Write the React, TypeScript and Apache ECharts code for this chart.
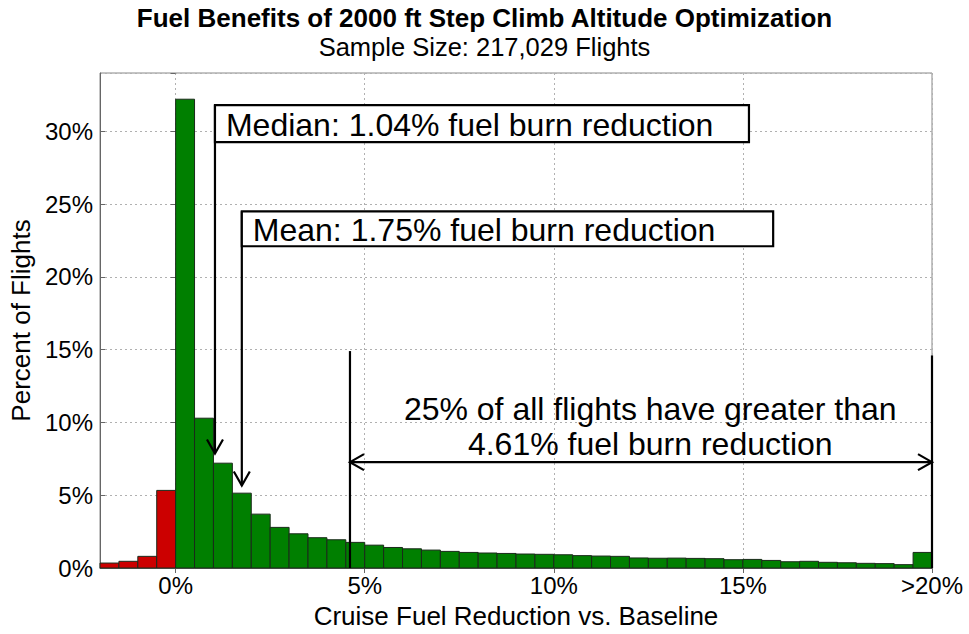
import React, { useEffect, useRef } from "react";
import * as echarts from "echarts";

const binStart = [
  -2, -1.5, -1, -0.5, 0, 0.5, 1, 1.5, 2, 2.5, 3, 3.5, 4, 4.5, 5, 5.5, 6, 6.5, 7, 7.5, 8, 8.5,
  9, 9.5, 10, 10.5, 11, 11.5, 12, 12.5, 13, 13.5, 14, 14.5, 15, 15.5, 16, 16.5, 17, 17.5, 18,
  18.5, 19, 19.5,
];
const binWidth = 0.5;
const percentFlights = [
  0.34, 0.46, 0.8, 5.33, 32.2, 10.29, 7.2, 5.14, 3.7, 2.79, 2.35, 2.08, 1.94, 1.76, 1.57, 1.41,
  1.32, 1.23, 1.14, 1.07, 1.03, 1.0, 0.96, 0.94, 0.91, 0.85, 0.82, 0.8, 0.69, 0.67, 0.68, 0.66,
  0.64, 0.57, 0.59, 0.52, 0.43, 0.46, 0.39, 0.36, 0.32, 0.3, 0.23, 1.07,
];
const xTickValues = [0, 5, 10, 15, 20];
const xTickLabels = ["0%", "5%", "10%", "15%", ">20%"];
const yTickValues = [0, 5, 10, 15, 20, 25, 30];

const medianValue = 1.04;
const meanValue = 1.75;
const q75Value = 4.61;
const xMin = -2;
const xMax = 20;
const yMax = 34;

const FONT = "Liberation Sans, Arial, sans-serif";
const RED = "#cc0000";
const GREEN = "#007f00";
const GRID_LINE = { type: [2, 3], color: "#b0b0b0", width: 1 };

export default function App() {
  const ref = useRef<HTMLDivElement>(null);
  useEffect(() => {
    if (!ref.current) return;
    const chart = echarts.init(ref.current, null, { renderer: "svg" });
    const data = binStart.map((s, i) => [s, s + binWidth, percentFlights[i]]);
    chart.setOption({
      animation: false,
      backgroundColor: "#ffffff",
      title: {
        text: "Fuel Benefits of 2000 ft Step Climb Altitude Optimization",
        subtext: "Sample Size: 217,029 Flights",
        left: "center",
        top: 0,
        itemGap: 3,
        textStyle: { fontFamily: FONT, fontSize: 26, fontWeight: "bold", color: "#000" },
        subtextStyle: { fontFamily: FONT, fontSize: 25.5, color: "#000" },
      },
      grid: {
        left: 98,
        right: 37,
        top: 73,
        bottom: 61,
        show: true,
        borderColor: "#888",
        borderWidth: 1,
      },
      xAxis: [
        {
          type: "value",
          min: xMin,
          max: xMax,
          name: "Cruise Fuel Reduction vs. Baseline",
          nameLocation: "middle",
          nameGap: 35,
          nameTextStyle: { fontFamily: FONT, fontSize: 26, color: "#000" },
          axisLine: { show: true, onZero: false, lineStyle: { color: "#666", width: 1 } },
          axisTick: { show: true, inside: true, length: 5, customValues: xTickValues, lineStyle: { color: "#666" } },
          axisLabel: {
            customValues: xTickValues,
            fontFamily: FONT,
            fontSize: 24,
            color: "#000",
            margin: 5,
            formatter: (v: number) => xTickLabels[xTickValues.indexOf(v)] ?? "",
          },
          splitLine: { show: true, lineStyle: GRID_LINE },
        },
        {
          type: "value",
          position: "top",
          min: xMin,
          max: xMax,
          axisLine: { show: false },
          axisTick: { show: true, inside: true, length: 5, customValues: xTickValues, lineStyle: { color: "#666" } },
          axisLabel: { show: false },
          splitLine: { show: false },
        },
      ],
      yAxis: [
        {
          type: "value",
          min: 0,
          max: yMax,
          interval: 5,
          name: "Percent of Flights",
          nameLocation: "middle",
          nameGap: 66,
          nameTextStyle: { fontFamily: FONT, fontSize: 26, color: "#000" },
          axisLine: { show: true, onZero: false, lineStyle: { color: "#666", width: 1 } },
          axisTick: { show: true, inside: true, length: 5, lineStyle: { color: "#666" } },
          axisLabel: {
            fontFamily: FONT,
            fontSize: 24,
            color: "#000",
            margin: 7,
            showMaxLabel: false,
            formatter: (v: number) => (yTickValues.includes(v) ? v + "%" : ""),
          },
          splitLine: { show: true, lineStyle: GRID_LINE },
        },
        {
          type: "value",
          position: "right",
          min: 0,
          max: yMax,
          interval: 5,
          axisLine: { show: false },
          axisTick: { show: true, inside: true, length: 5, lineStyle: { color: "#666" } },
          axisLabel: { show: false },
          splitLine: { show: false },
        },
      ],
      series: [
        {
          type: "custom",
          xAxisIndex: 0,
          yAxisIndex: 0,
          encode: { x: [0, 1], y: 2 },
          data,
          renderItem: (params: any, api: any) => {
            const x0 = api.value(0);
            const x1 = api.value(1);
            const v = api.value(2);
            const p0 = api.coord([x0, 0]);
            const p1 = api.coord([x1, v]);
            return {
              type: "rect",
              shape: { x: p0[0], y: p1[1], width: p1[0] - p0[0], height: p0[1] - p1[1] },
              style: { fill: x0 < 0 ? RED : GREEN, stroke: "#1a2a1a", lineWidth: 1 },
            };
          },
        },
      ],
    });

    const P = (x: number, y: number) =>
      chart.convertToPixel({ xAxisIndex: 0, yAxisIndex: 0 }, [x, y]) as number[];
    const LW = 2.2;
    const lineStyle = { stroke: "#000", lineWidth: LW };
    const ANN_FONT = 32;
    const downArrow = (x: number, yTop: number, yTip: number) => {
      const a = P(x, yTop);
      const b = P(x, yTip);
      return [
        { type: "line", shape: { x1: a[0], y1: a[1], x2: b[0], y2: b[1] }, style: lineStyle, z: 100 },
        {
          type: "polyline",
          shape: { points: [[b[0] - 8, b[1] - 14], [b[0], b[1]], [b[0] + 8, b[1] - 14]] },
          style: { ...lineStyle, fill: null },
          z: 100,
        },
      ];
    };
    const box = (x: number, yTop: number, x2: number, yBot: number, text: string) => {
      const a = P(x, yTop);
      const b = P(x2, yBot);
      return [
        {
          type: "rect",
          shape: { x: a[0], y: a[1], width: b[0] - a[0], height: b[1] - a[1] },
          style: { fill: "#fff", stroke: "#000", lineWidth: LW },
          z: 100,
        },
        {
          type: "text",
          x: a[0] + 11,
          y: (a[1] + b[1]) / 2 + 1,
          style: { text, fontFamily: FONT, fontSize: ANN_FONT, fill: "#000", textVerticalAlign: "middle", textAlign: "left" },
          z: 101,
        },
      ];
    };
    const q = P(q75Value, 0);
    const qTop = P(q75Value, 14.9);
    const r = P(xMax, 0);
    const rTop = P(xMax, 14.6);
    const h = P(q75Value, 7.27);
    const hr = P(xMax, 7.27);
    const t1 = P(12.55, 10.9);
    const t2 = P(12.55, 8.5);
    const graphic: any[] = [
      ...downArrow(medianValue, 31.8, 7.86),
      ...box(medianValue, 31.8, 15.16, 29.25, "Median: 1.04% fuel burn reduction"),
      ...downArrow(meanValue, 24.5, 5.67),
      ...box(meanValue, 24.5, 15.8, 22.1, "Mean: 1.75% fuel burn reduction"),
      { type: "line", shape: { x1: q[0], y1: q[1], x2: qTop[0], y2: qTop[1] }, style: lineStyle, z: 100 },
      { type: "line", shape: { x1: r[0], y1: r[1], x2: rTop[0], y2: rTop[1] }, style: lineStyle, z: 100 },
      { type: "line", shape: { x1: h[0], y1: h[1], x2: hr[0], y2: hr[1] }, style: lineStyle, z: 100 },
      {
        type: "polyline",
        shape: { points: [[h[0] + 14, h[1] - 8], [h[0], h[1]], [h[0] + 14, h[1] + 8]] },
        style: { ...lineStyle, fill: null },
        z: 100,
      },
      {
        type: "polyline",
        shape: { points: [[hr[0] - 14, hr[1] - 8], [hr[0], hr[1]], [hr[0] - 14, hr[1] + 8]] },
        style: { ...lineStyle, fill: null },
        z: 100,
      },
      {
        type: "text",
        x: t1[0],
        y: t1[1],
        style: { text: "25% of all flights have greater than", fontFamily: FONT, fontSize: ANN_FONT, fill: "#000", textAlign: "center", textVerticalAlign: "middle" },
        z: 101,
      },
      {
        type: "text",
        x: t2[0],
        y: t2[1],
        style: { text: "4.61% fuel burn reduction", fontFamily: FONT, fontSize: ANN_FONT, fill: "#000", textAlign: "center", textVerticalAlign: "middle" },
        z: 101,
      },
    ];
    chart.setOption({ graphic });
    return () => chart.dispose();
  }, []);
  return <div ref={ref} style={{ width: 969, height: 634, position: "absolute", left: 0, top: 0 }} />;
}
